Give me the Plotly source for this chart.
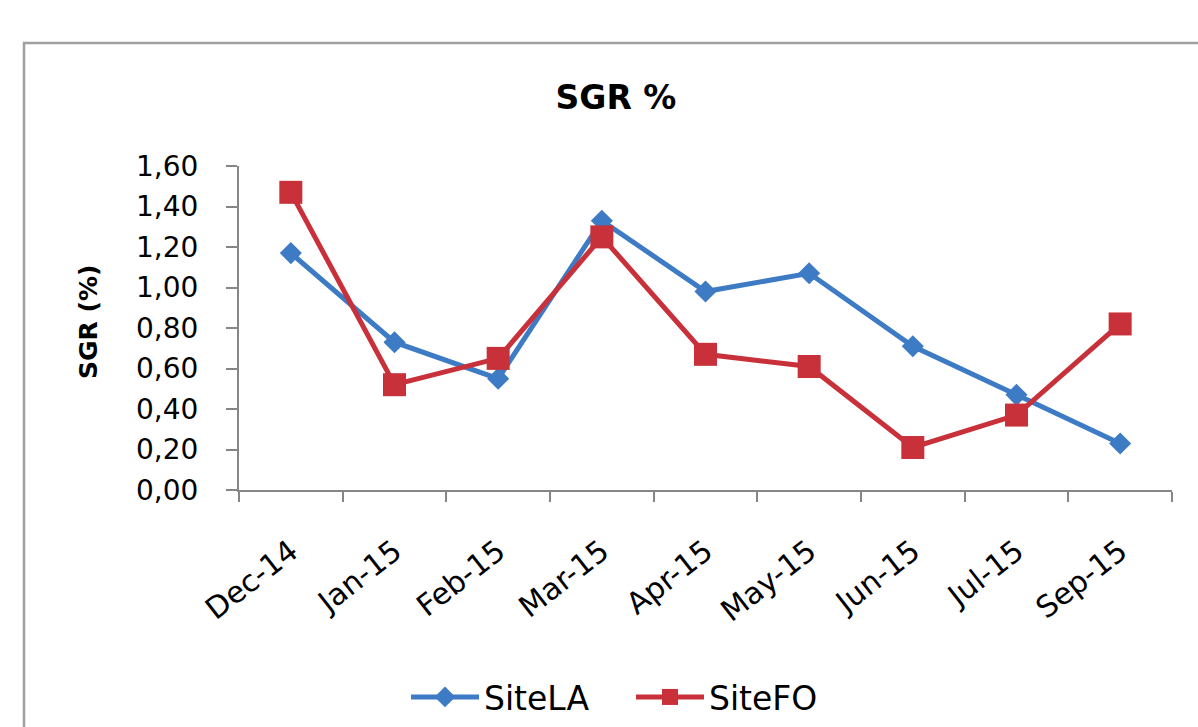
import plotly.graph_objects as go

# Monthly specific growth rate (%) at the two sites
months = ["Dec-14", "Jan-15", "Feb-15", "Mar-15", "Apr-15", "May-15", "Jun-15", "Jul-15", "Sep-15"]
site_la = [1.17, 0.73, 0.55, 1.33, 0.98, 1.07, 0.71, 0.47, 0.23]
site_fo = [1.47, 0.52, 0.65, 1.25, 0.67, 0.61, 0.21, 0.37, 0.82]
y_ticks = [0.0, 0.2, 0.4, 0.6, 0.8, 1.0, 1.2, 1.4, 1.6]

W, H = 1198, 727
L, R, T, B = 239, 26, 166, 237
pw, ph = W - L - R, H - T - B

def px_x(x):
    return (x - L) / pw

def px_y(y):
    return (H - B - y) / ph

BLUE = "#3E7BC5"
RED = "#C8303A"
AXIS = "#868686"
FONT = "DejaVu Sans"

fig = go.Figure()
fig.add_trace(go.Scatter(
    x=months, y=site_la, name="SiteLA", mode="lines+markers",
    line=dict(color=BLUE, width=5),
    marker=dict(symbol="diamond", size=17, color=BLUE),
))
fig.add_trace(go.Scatter(
    x=months, y=site_fo, name="SiteFO", mode="lines+markers",
    line=dict(color=RED, width=5),
    marker=dict(symbol="square", size=23, color=RED),
))

fig.update_layout(
    width=W, height=H,
    margin=dict(l=L, r=R, t=T, b=B, autoexpand=False),
    paper_bgcolor="white", plot_bgcolor="white",
    separators=",.",
    font=dict(family=FONT, color="black"),
    title=dict(
        text="<b>SGR %</b>", font=dict(size=33, family=FONT, color="black"),
        x=px_x(616), xref="paper", xanchor="center",
        y=1 - 97 / H, yref="container", yanchor="middle",
    ),
    showlegend=True,
    legend=dict(
        orientation="h", x=px_x(406), xanchor="left",
        y=px_y(697), yanchor="middle",
        font=dict(size=33, family=FONT, color="black"),
        itemwidth=68, entrywidth=142, entrywidthmode="pixels",
        bgcolor="rgba(0,0,0,0)",
    ),
    xaxis=dict(
        type="category", range=[-0.5, len(months) - 0.5],
        showline=True, linecolor=AXIS, linewidth=2,
        ticks="outside", tickson="boundaries", ticklen=10, tickwidth=2, tickcolor=AXIS,
        tickangle=-38, tickfont=dict(size=30, family=FONT, color="black"),
        ticklabelstandoff=30,
        showgrid=False, zeroline=False,
    ),
    yaxis=dict(
        range=[0, 1.6], tickvals=y_ticks, tickformat=".2f",
        showline=True, linecolor=AXIS, linewidth=2,
        ticks="outside", ticklen=11, tickwidth=2, tickcolor=AXIS,
        tickfont=dict(size=28, family=FONT, color="black"),
        ticklabelstandoff=22,
        showgrid=False, zeroline=False,
    ),
    annotations=[dict(
        text="<b>SGR (%)</b>", textangle=-90,
        xref="paper", yref="paper", x=px_x(88), y=px_y(322),
        xanchor="center", yanchor="middle", showarrow=False,
        font=dict(size=25, family=FONT, color="black"),
    )],
    shapes=[dict(
        type="rect", xref="paper", yref="paper", layer="below",
        x0=px_x(24), y0=px_y(H + 40), x1=px_x(W + 40), y1=px_y(43),
        line=dict(color="#A0A0A0", width=2.5), fillcolor="rgba(0,0,0,0)",
    )],
)

fig.write_html("out.html")
